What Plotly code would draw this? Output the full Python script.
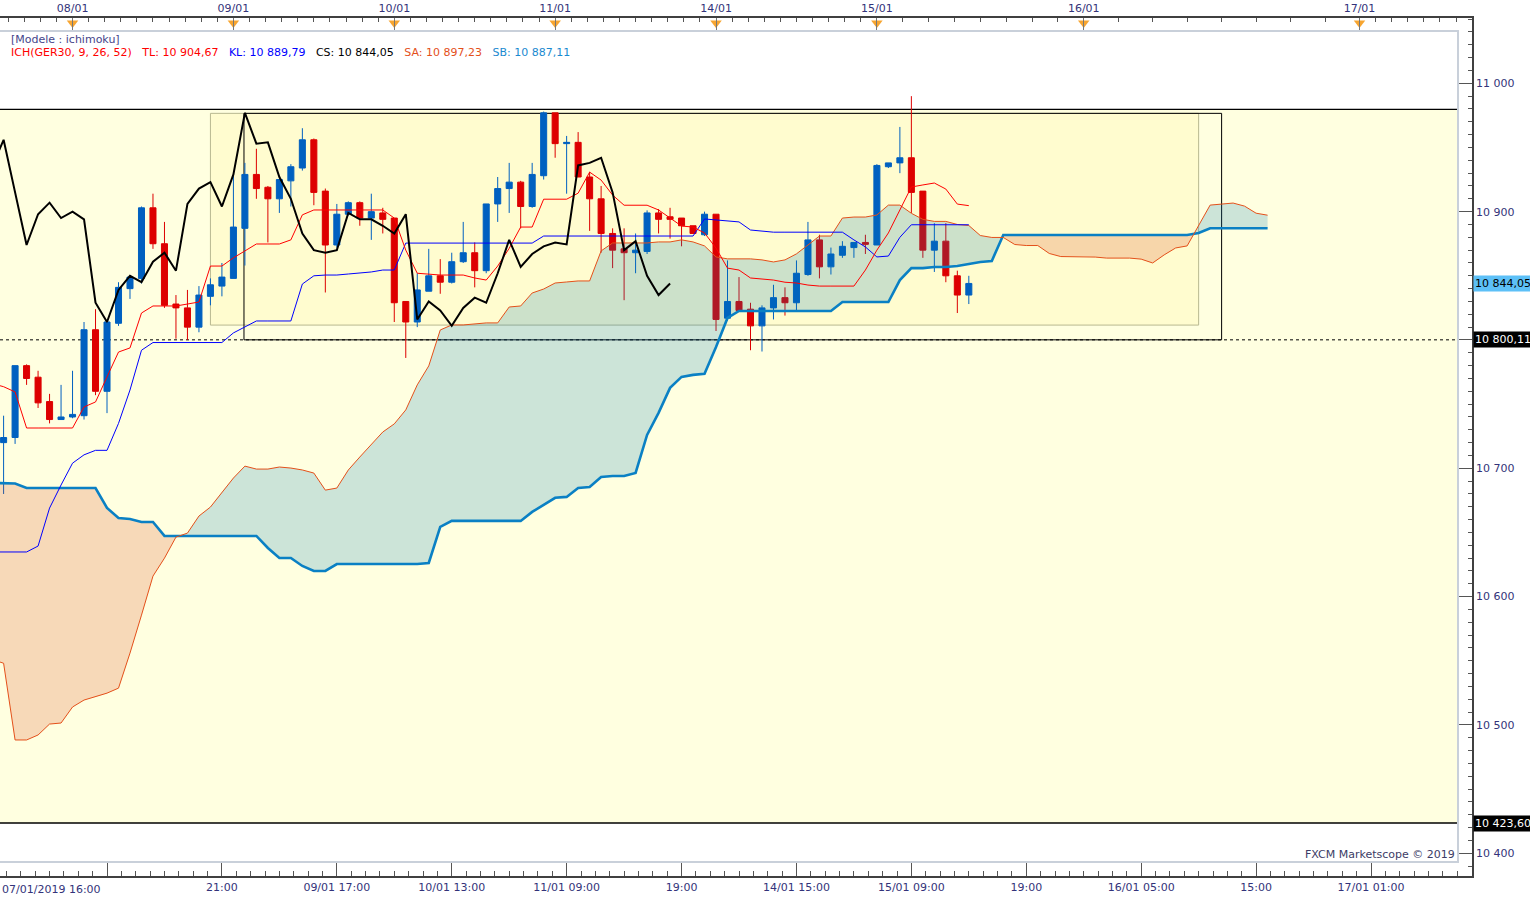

# Ichimoku chart of GER30 (1h bars) rebuilt with Plotly
import plotly.graph_objects as go

# -------------------
# Candles (bar index 0 = first visible bar)
# -------------------
opens = [10720, 10724, 10780, 10771, 10752, 10738, 10740, 10741, 10808, 10760,
         10813, 10840, 10848, 10903, 10875, 10828, 10825, 10810, 10834, 10842,
         10848, 10887, 10929, 10919, 10910, 10924, 10934, 10956, 10916, 10874,
         10898, 10907, 10895, 10899, 10895, 10830, 10814, 10838, 10850, 10845,
         10861, 10868, 10854, 10906, 10918, 10923, 10904, 10928, 10977, 10953,
         10954, 10927, 10910, 10883, 10871, 10868, 10869, 10899, 10896, 10895,
         10889, 10882, 10898, 10817, 10830, 10824, 10811, 10825, 10833, 10829,
         10851, 10878, 10857, 10866, 10872, 10876, 10874, 10935, 10938, 10942,
         10916, 10870, 10877, 10850, 10835]
highs = [10741, 10780, 10781, 10776, 10758, 10765, 10776, 10814, 10824, 10815,
         10845, 10849, 10904, 10914, 10892, 10835, 10839, 10842, 10848, 10860,
         10928, 10938, 10949, 10920, 10925, 10937, 10965, 10957, 10918, 10906,
         10908, 10908, 10914, 10903, 10895, 10830, 10852, 10871, 10863, 10868,
         10892, 10876, 10906, 10927, 10938, 10924, 10938, 10978, 10977, 10959,
         10962, 10931, 10920, 10887, 10887, 10883, 10901, 10902, 10903, 10895,
         10889, 10900, 10898, 10862, 10849, 10829, 10827, 10843, 10841, 10862,
         10892, 10882, 10872, 10877, 10876, 10882, 10937, 10938, 10966, 10990,
         10916, 10891, 10891, 10854, 10850]
lows = [10680, 10719, 10765, 10747, 10735, 10738, 10739, 10738, 10757, 10743,
        10811, 10832, 10844, 10871, 10825, 10801, 10800, 10806, 10827, 10834,
        10848, 10858, 10910, 10876, 10899, 10904, 10932, 10905, 10837, 10872,
        10897, 10889, 10878, 10883, 10814, 10786, 10810, 10838, 10836, 10844,
        10860, 10841, 10852, 10892, 10899, 10887, 10903, 10925, 10942, 10914,
        10927, 10885, 10868, 10856, 10831, 10852, 10867, 10883, 10879, 10873,
        10883, 10881, 10807, 10815, 10823, 10792, 10791, 10816, 10819, 10823,
        10850, 10848, 10851, 10864, 10864, 10867, 10874, 10934, 10930, 10899,
        10864, 10853, 10845, 10821, 10828]
closes = [10724, 10780, 10770, 10751, 10738, 10740, 10742, 10808, 10760, 10814,
          10841, 10849, 10903, 10875, 10827, 10825, 10810, 10835, 10843, 10849,
          10888, 10929, 10918, 10910, 10925, 10935, 10956, 10915, 10874, 10898,
          10907, 10895, 10900, 10894, 10829, 10814, 10839, 10850, 10845, 10861,
          10868, 10854, 10906, 10918, 10923, 10904, 10929, 10977, 10953, 10954,
          10927, 10910, 10883, 10870, 10868, 10870, 10899, 10894, 10894, 10889,
          10883, 10898, 10816, 10830, 10823, 10811, 10825, 10833, 10829, 10852,
          10878, 10857, 10867, 10873, 10876, 10874.5, 10936, 10938, 10942, 10915,
          10870, 10877, 10850, 10835, 10844.05]

# -------------------
# Ichimoku lines (they start one bar left of the first candle)
# -------------------
line_start = -1
tenkan = [10766.0,
          10763.6, 10759.5, 10731.4, 10731.4, 10731.4, 10731.4, 10731.4, 10747.8, 10751.7, 10771.2,
          10790.6, 10793.8, 10821.0, 10826.5, 10826.5, 10826.5, 10828.0, 10829.6, 10857.6, 10857.6,
          10864.0, 10869.4, 10874.8, 10874.8, 10874.8, 10878.0, 10897.5, 10901.3, 10901.3, 10901.3,
          10901.3, 10901.3, 10901.3, 10901.3, 10895.0, 10870.0, 10852.0, 10851.4, 10850.6, 10850.6,
          10850.6, 10848.3, 10846.7, 10857.6, 10871.4, 10888.0, 10888.0, 10909.7, 10909.7, 10909.7,
          10914.4, 10930.8, 10924.6, 10912.9, 10905.0, 10905.0, 10905.0, 10901.3, 10895.0, 10888.8,
          10888.0, 10883.4, 10871.6, 10856.0, 10854.5, 10848.3, 10847.5, 10846.7, 10845.0, 10844.4,
          10842.8, 10842.0, 10842.0, 10842.0, 10842.0, 10854.5, 10870.0, 10883.4, 10901.3, 10919.2,
          10920.8, 10922.3, 10917.6, 10905.9, 10904.67]
kijun = [10634.8,
         10634.8, 10634.8, 10634.8, 10639.4, 10669.0, 10687.0, 10704.0, 10710.5, 10714.0, 10714.0,
         10735.0, 10761.0, 10792.0, 10798.0, 10798.0, 10798.0, 10798.0, 10798.0, 10798.0, 10798.0,
         10805.5, 10810.0, 10814.8, 10814.8, 10814.8, 10814.8, 10843.6, 10850.0, 10850.6, 10850.6,
         10851.4, 10852.2, 10853.0, 10854.5, 10854.5, 10875.5, 10875.5, 10875.5, 10875.5, 10875.5,
         10875.5, 10875.5, 10875.5, 10875.5, 10875.5, 10875.5, 10875.5, 10881.0, 10881.0, 10881.0,
         10881.0, 10881.0, 10881.0, 10881.0, 10881.0, 10881.0, 10881.0, 10881.0, 10881.0, 10881.0,
         10881.0, 10894.3, 10893.5, 10892.7, 10892.0, 10885.7, 10885.0, 10884.0, 10884.0, 10884.0,
         10884.0, 10884.0, 10884.0, 10884.0, 10878.0, 10872.5, 10864.7, 10865.4, 10880.0, 10889.79,
         10889.79, 10889.79, 10889.79, 10889.79, 10889.79]
senkou_a = [10551.0,
            10548.1, 10488.3, 10488.3, 10492.2, 10500.7, 10501.5, 10514.0, 10519.4, 10521.8, 10524.8,
            10528.7, 10556.0, 10585.6, 10616.0, 10630.0, 10646.4, 10649.5, 10662.8, 10669.8, 10681.5,
            10692.4, 10701.7, 10699.4, 10699.4, 10701.0, 10700.2, 10698.7, 10696.3, 10683.0, 10684.6,
            10698.7, 10708.8, 10718.2, 10728.3, 10734.6, 10745.5, 10765.0, 10779.8, 10807.8, 10811.7,
            10811.7, 10812.5, 10813.3, 10813.3, 10825.7, 10826.5, 10836.6, 10839.7, 10844.4, 10845.2,
            10846.0, 10846.0, 10869.4, 10875.6, 10875.6, 10875.6, 10875.6, 10876.4, 10876.4, 10878.0,
            10876.4, 10873.3, 10864.7, 10863.2, 10863.2, 10863.2, 10862.4, 10860.8, 10862.4, 10867.1,
            10874.0, 10881.0, 10881.0, 10895.0, 10895.8, 10895.8, 10897.4, 10905.1, 10905.1, 10898.7,
            10894.0, 10892.4, 10892.4, 10890.0, 10889.2, 10881.4, 10879.9, 10879.9, 10874.4, 10873.6,
            10873.6, 10867.4, 10865.0, 10865.0, 10865.0, 10864.6, 10863.8, 10863.8, 10863.8, 10863.0,
            10860.0, 10866.3, 10871.7, 10873.3, 10888.8, 10905.1, 10905.9, 10906.7, 10904.3, 10898.8,
            10897.23]
senkou_b = [10688.6,
            10688.6, 10688.2, 10684.6, 10684.6, 10684.6, 10684.6, 10684.6, 10684.6, 10684.6, 10669.1,
            10661.3, 10660.5, 10658.2, 10658.2, 10647.3, 10647.3, 10647.3, 10647.3, 10647.3, 10647.3,
            10647.3, 10647.3, 10647.3, 10637.9, 10630.1, 10630.1, 10623.9, 10620.0, 10620.0, 10625.4,
            10625.4, 10625.4, 10625.4, 10625.4, 10625.4, 10625.4, 10625.4, 10626.2, 10654.3, 10659.0,
            10659.0, 10659.0, 10659.0, 10659.0, 10659.0, 10659.0, 10666.0, 10671.5, 10677.0, 10677.7,
            10684.6, 10685.4, 10693.2, 10694.0, 10694.0, 10696.4, 10726.0, 10743.2, 10762.7, 10771.2,
            10772.8, 10773.6, 10794.6, 10817.2, 10822.6, 10822.6, 10822.6, 10822.6, 10822.6, 10822.6,
            10822.6, 10822.6, 10822.6, 10829.6, 10829.6, 10829.6, 10829.6, 10829.6, 10846.7, 10856.0,
            10856.0, 10856.9, 10856.9, 10857.7, 10859.2, 10860.8, 10861.6, 10881.8, 10881.8, 10881.8,
            10881.8, 10881.8, 10881.8, 10881.8, 10881.8, 10881.8, 10881.8, 10881.8, 10881.8, 10881.8,
            10881.8, 10881.8, 10881.8, 10881.8, 10883.4, 10887.11, 10887.11, 10887.11, 10887.11, 10887.11,
            10887.11]
chikou_shift = 26

# -------------------
# Levels and axis labels
# -------------------
resistance = 10979.74
support = 10423.60
pivot = 10800.11

bottom_tick_bars = [9, 19, 29, 39, 49, 59, 69, 79, 89, 99, 109, 119]
bottom_tick_text = ["", "21:00", "09/01 17:00", "10/01 13:00", "11/01 09:00", "19:00",
                    "14/01 15:00", "15/01 09:00", "19:00", "16/01 05:00", "15:00", "17/01 01:00"]
first_bar_label = "07/01/2019 16:00"
day_start_bars = [6, 20, 34, 48, 62, 76, 94, 118]
day_labels = ["08/01", "09/01", "10/01", "11/01", "14/01", "15/01", "16/01", "17/01"]
price_ticks = [10400, 10500, 10600, 10700, 10800, 10900, 11000]
# 10 800 sits under the pivot marker, so it shows no text
price_tick_text = ["10 400", "10 500", "10 600", "10 700", "", "10 900", "11 000"]


def fmt(v):
    return f"{v:,.2f}".replace(",", " ").replace(".", ",")


bars = list(range(len(closes)))
short_bars = list(range(line_start, line_start + len(tenkan)))
lead_bars = list(range(line_start, line_start + len(senkou_a)))
chikou_bars = list(range(line_start, len(closes) - chikou_shift))
chikou_vals = closes[chikou_shift + line_start:]

BLUE = "#0060c0"
RED = "#dd0000"
NAVY = "#33337a"

fig = go.Figure()

# candles first so the cloud tints them
fig.add_trace(go.Candlestick(
    x=bars, open=opens, high=highs, low=lows, close=closes,
    increasing=dict(line=dict(color=BLUE, width=1), fillcolor=BLUE),
    decreasing=dict(line=dict(color=RED, width=1), fillcolor=RED),
    whiskerwidth=0, name="GER30",
))

# -------------------
# Kumo: split where the two spans cross
# -------------------
pieces = []
seg = [(lead_bars[0], senkou_a[0], senkou_b[0])]
for i in range(1, len(senkou_a)):
    d0 = senkou_a[i - 1] - senkou_b[i - 1]
    d1 = senkou_a[i] - senkou_b[i]
    if d0 * d1 < 0:
        t = d0 / (d0 - d1)
        xc = lead_bars[i - 1] + t
        yc = senkou_a[i - 1] + t * (senkou_a[i] - senkou_a[i - 1])
        seg.append((xc, yc, yc))
        pieces.append(seg)
        seg = [(xc, yc, yc)]
    seg.append((lead_bars[i], senkou_a[i], senkou_b[i]))
pieces.append(seg)

for seg in pieces:
    xs = [p[0] for p in seg]
    bullish = sum(p[1] - p[2] for p in seg) >= 0
    fig.add_trace(go.Scatter(
        x=xs + xs[::-1],
        y=[p[1] for p in seg] + [p[2] for p in seg][::-1],
        fill="toself", mode="none", hoverinfo="skip",
        fillcolor="rgba(0,120,184,0.2)" if bullish else "rgba(215,65,25,0.2)",
    ))

# lines
fig.add_trace(go.Scatter(x=lead_bars, y=senkou_b, mode="lines",
                         line=dict(color="#0a80c4", width=2.6), name="SB"))
fig.add_trace(go.Scatter(x=lead_bars, y=senkou_a, mode="lines",
                         line=dict(color="#e4501a", width=1), name="SA"))
fig.add_trace(go.Scatter(x=short_bars, y=kijun, mode="lines",
                         line=dict(color="#0000ff", width=1), name="KL"))
fig.add_trace(go.Scatter(x=short_bars, y=tenkan, mode="lines",
                         line=dict(color="#ff0000", width=1), name="TL"))
fig.add_trace(go.Scatter(x=chikou_bars, y=chikou_vals, mode="lines",
                         line=dict(color="black", width=2), name="CS"))

# day markers on the top axis
fig.add_trace(go.Scatter(
    x=day_start_bars, y=[11047] * len(day_start_bars), xaxis="x2", yaxis="y",
    mode="markers", cliponaxis=False, hoverinfo="skip",
    marker=dict(symbol="triangle-down", size=10, color="#f7a530"),
))

# -------------------
# Drawings: channel, boxes, levels
# -------------------
shapes = [
    dict(type="rect", xref="paper", yref="y", x0=0, x1=0.9898, y0=support, y1=resistance,
         fillcolor="#ffffe0", line=dict(width=0), layer="below"),
    dict(type="rect", xref="x", yref="y", x0=18, x1=104, y0=10811.6, y1=10976.6,
         fillcolor="rgba(255,236,120,0.16)", line=dict(color="#b8b890", width=1), layer="below"),
    dict(type="rect", xref="x", yref="y", x0=20.92, x1=106, y0=pivot, y1=10976.6,
         line=dict(color="black", width=1), layer="below"),
    dict(type="line", xref="paper", yref="y", x0=0, x1=0.9898, y0=resistance, y1=resistance,
         line=dict(color="black", width=1.3), layer="below"),
    dict(type="line", xref="paper", yref="y", x0=0, x1=0.9898, y0=support, y1=support,
         line=dict(color="black", width=1.3), layer="below"),
    dict(type="line", xref="paper", yref="y", x0=0, x1=0.9898, y0=pivot, y1=pivot,
         line=dict(color="black", width=1, dash="dot"), layer="below"),
    # chart frame
    dict(type="rect", xref="paper", yref="paper", x0=-0.01, x1=0.9905, y0=0.0163, y1=0.9848,
         line=dict(color="#c9d0da", width=2)),
]

gap = "&nbsp;&nbsp; "
header = (
    f"<span style='color:#ff0000'>ICH(GER30, 9, 26, 52){gap}TL: {fmt(tenkan[-1])}</span>{gap}"
    f"<span style='color:#0000ff'>KL: {fmt(kijun[-1])}</span>{gap}"
    f"<span style='color:#000000'>CS: {fmt(closes[-1])}</span>{gap}"
    f"<span style='color:#e4501a'>SA: {fmt(senkou_a[-1])}</span>{gap}"
    f"<span style='color:#1a8ad0'>SB: {fmt(senkou_b[-1])}</span>"
)

annotations = [
    dict(text="[Modele : ichimoku]", xref="paper", yref="paper", x=0.0062, y=0.9755,
         xanchor="left", yanchor="middle", showarrow=False, font=dict(color="#45458a", size=11)),
    dict(text=header, xref="paper", yref="paper", x=0.0062, y=0.9603,
         xanchor="left", yanchor="middle", showarrow=False, font=dict(size=11)),
    dict(text="FXCM Marketscope © 2019", xref="paper", yref="paper", x=0.9895, y=0.0245,
         xanchor="right", yanchor="middle", showarrow=False, font=dict(color="#3c3c66", size=11)),
    dict(text=first_bar_label, xref="paper", yref="paper", x=0, y=0, xanchor="left",
         yanchor="top", yshift=-5, showarrow=False, font=dict(color=NAVY, size=11)),
    dict(text=fmt(closes[-1]), xref="paper", yref="y", x=1, y=closes[-1], xanchor="left",
         xshift=1, showarrow=False, bgcolor="#5dc0f7", borderpad=1, font=dict(color="black", size=11)),
    dict(text=fmt(pivot), xref="paper", yref="y", x=1, y=pivot, xanchor="left",
         xshift=1, showarrow=False, bgcolor="black", borderpad=1, font=dict(color="white", size=11)),
    dict(text=fmt(support), xref="paper", yref="y", x=1, y=support, xanchor="left",
         xshift=1, showarrow=False, bgcolor="black", borderpad=1, font=dict(color="white", size=11)),
]

# top axis minor ticks (10 per trading day, then 8 per day in the projection)
top_minor = []
edges = [-8] + day_start_bars + [132]
for a, b in zip(edges[:-1], edges[1:]):
    n = 10 if b - a == 14 else 8
    top_minor += [a + (b - a) * k / n for k in range(1, n)]

x_range = [-0.313, 127.79]

fig.update_layout(
    width=1530, height=900,
    margin=dict(l=0, r=58, t=18, b=24),
    paper_bgcolor="white", plot_bgcolor="white",
    showlegend=False, boxgap=0.25,
    font=dict(family="DejaVu Sans", size=11, color=NAVY),
    shapes=shapes, annotations=annotations,
    xaxis=dict(
        range=x_range, showgrid=False, zeroline=False, rangeslider=dict(visible=False),
        showline=True, linecolor="#404040", linewidth=1.5,
        tickmode="array", tickvals=bottom_tick_bars, ticktext=bottom_tick_text,
        ticks="inside", ticklen=14, tickcolor="#555555",
        minor=dict(tick0=9, dtick=1.25, ticks="inside", ticklen=5, tickcolor="#555555"),
        tickfont=dict(color=NAVY, size=11),
    ),
    xaxis2=dict(
        range=x_range, overlaying="x", side="top", anchor="y",
        showgrid=False, zeroline=False, showline=True, linecolor="#404040", linewidth=1.5,
        tickmode="array", tickvals=day_start_bars, ticktext=day_labels,
        ticks="inside", ticklen=13, tickcolor="#777777",
        minor=dict(tickvals=top_minor, ticks="inside", ticklen=4, tickcolor="#555555"),
        tickfont=dict(color=NAVY, size=11),
    ),
    yaxis=dict(
        range=[10382.3, 11050.9], side="right", showgrid=False, zeroline=False,
        showline=True, linecolor="#404040", linewidth=1.5,
        tickmode="array", tickvals=price_ticks, ticktext=price_tick_text,
        ticks="inside", ticklen=14, tickcolor="#555555",
        minor=dict(tick0=10400, dtick=10, ticks="inside", ticklen=4, tickcolor="#555555"),
        tickfont=dict(color=NAVY, size=11),
    ),
)

fig.write_html("out.html", config={"displayModeBar": False},
               post_script="document.body.style.margin='0';")
